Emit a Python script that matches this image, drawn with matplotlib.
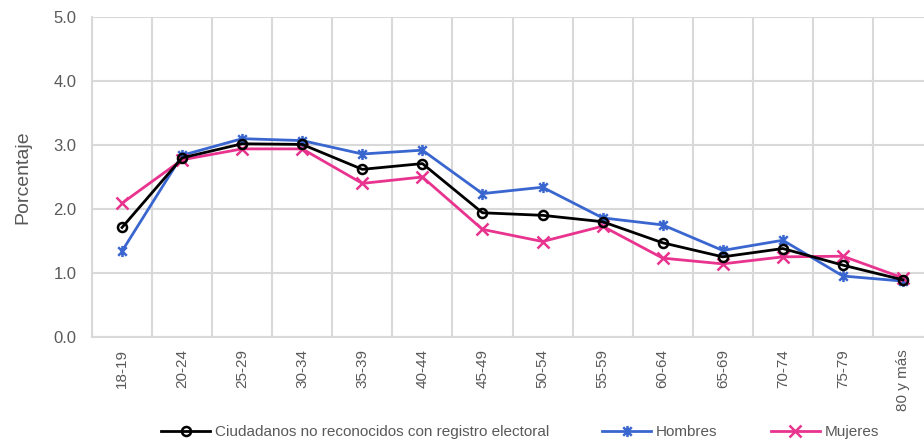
import matplotlib
matplotlib.use("Agg")
import matplotlib.pyplot as plt
from matplotlib.path import Path

categories = ["18-19", "20-24", "25-29", "30-34", "35-39", "40-44", "45-49",
              "50-54", "55-59", "60-64", "65-69", "70-74", "75-79", "80 y más"]
total = [1.71, 2.80, 3.02, 3.01, 2.62, 2.71, 1.94, 1.90, 1.80, 1.47, 1.25, 1.38, 1.12, 0.89]
hombres = [1.34, 2.84, 3.10, 3.07, 2.86, 2.92, 2.24, 2.34, 1.86, 1.75, 1.35, 1.51, 0.95, 0.87]
mujeres = [2.09, 2.77, 2.94, 2.94, 2.40, 2.50, 1.68, 1.49, 1.73, 1.23, 1.14, 1.25, 1.26, 0.92]

label_total = "Ciudadanos no reconocidos con registro electoral"
label_h = "Hombres"
label_m = "Mujeres"

plt.rcParams["font.family"] = ["Liberation Sans", "DejaVu Sans"]
text_color = "#595959"
grid_color = "#d9d9d9"
blue = "#3A66D0"
pink = "#E8338F"

# asterisk marker: an x crossed by a vertical bar
star = Path([(-1, -1), (1, 1), (-1, 1), (1, -1), (0, -1.3), (0, 1.3)],
            [Path.MOVETO, Path.LINETO, Path.MOVETO, Path.LINETO, Path.MOVETO, Path.LINETO])

W, H = 924, 443
fig = plt.figure(figsize=(W / 100, H / 100), dpi=100)
left, right, top, bottom = 92, 933, 17.3, 336.7
ax = fig.add_axes([left / W, 1 - bottom / H, (right - left) / W, (bottom - top) / H])

x = list(range(len(categories)))
ax.plot(x, total, color="black", lw=2, marker="o", ms=6.5, mfc="none", mew=1.8,
        label=label_total, zorder=4)
ax.plot(x, hombres, color=blue, lw=2, marker=star, ms=8, mew=1.8,
        label=label_h, zorder=3)
ax.plot(x, mujeres, color=pink, lw=2, marker="x", ms=8, mew=1.8,
        label=label_m, zorder=3)

ax.set_xlim(-0.5, len(categories) - 0.5)
ax.set_ylim(0, 5)
ax.set_yticks([0, 1, 2, 3, 4, 5])
ax.set_yticklabels([f"{v:.1f}" for v in [0, 1, 2, 3, 4, 5]])
ax.set_xticks(x)
ax.set_xticklabels(categories, rotation=90)
ax.set_xticks([i + 0.5 for i in range(-1, len(categories))], minor=True)

ax.grid(True, axis="y", which="major", color=grid_color, lw=1.5)
ax.grid(True, axis="x", which="minor", color=grid_color, lw=1.5)
ax.set_axisbelow(True)
for s in ["top", "right"]:
    ax.spines[s].set_visible(False)
for s in ["left", "bottom"]:
    ax.spines[s].set_color(grid_color)
    ax.spines[s].set_linewidth(1.5)

ax.tick_params(axis="both", which="both", length=0, colors=text_color)
ax.tick_params(axis="x", labelsize=11, pad=9)
ax.tick_params(axis="y", labelsize=12, pad=11)
ax.set_ylabel("Porcentaje", color=text_color, fontsize=14, labelpad=16)

handles, labels = ax.get_legend_handles_labels()
leg = fig.legend(handles, labels, loc="center", bbox_to_anchor=(520 / W, 1 - 432 / H),
                 ncol=3, frameon=False, handlelength=3.2, columnspacing=3.5,
                 handletextpad=0.3, labelcolor=text_color,
                 prop={"family": ["Liberation Sans Narrow", "Liberation Sans"], "size": 11})

fig.savefig("out.png", dpi=100)
